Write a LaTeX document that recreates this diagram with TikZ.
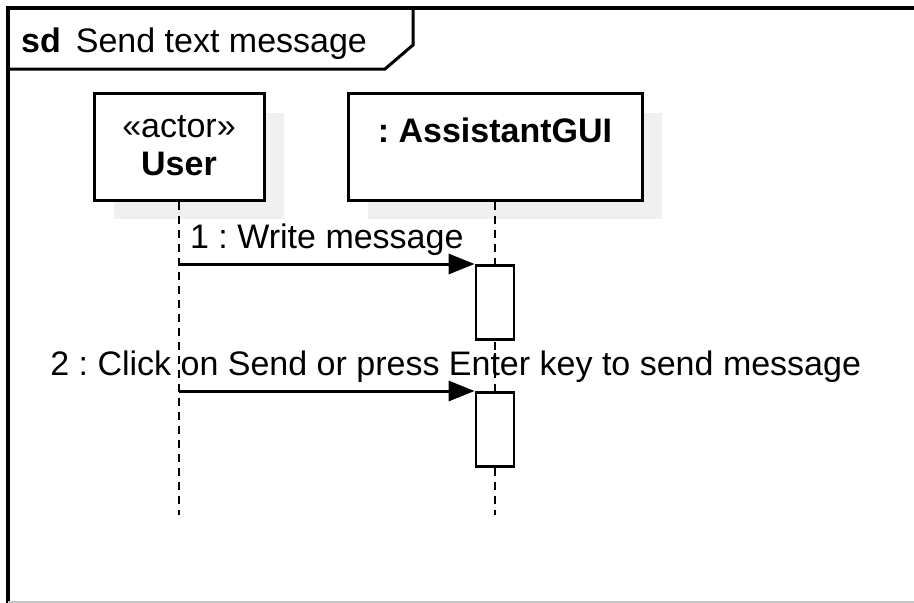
\documentclass[tikz,border=0pt]{standalone}
\usepackage{fontspec}
\setmainfont{Liberation Sans}
\usetikzlibrary{arrows.meta,positioning}
\definecolor{shadowgray}{RGB}{240,240,240}
\frenchspacing

\begin{document}
\begin{tikzpicture}[x=1pt,y=-1pt,
	lifebox/.style={
		draw=black,
		fill=white,
		line width=3pt,
		inner sep=0pt,
		minimum height=107pt,
		align=center,
		font=\fontsize{34}{38}\selectfont},
	actbox/.style={
		draw=black,
		fill=white,
		line width=2.8pt,
		inner sep=0pt,
		minimum width=38pt,
		minimum height=74pt,
		anchor=north},
	lifeline/.style={line width=2.4pt,dash pattern=on 8pt off 6pt},
	msgarrow/.style={-{Triangle[length=26pt,width=20pt]},line width=3pt},
	msgtxt/.style={font=\fontsize{34}{38}\selectfont,anchor=base,yshift=16pt,inner sep=0pt}
	]
	\useasboundingbox (0,0) rectangle (914,603);
	
	% frame
	\draw[line width=3.5pt] (8,640) -- (8,8) -- (940,8);
	\draw[gray!45,line width=2pt] (8,602) -- (914,602);
	\draw[line width=3pt] (8,69) -- (385,69) -- (413,45) -- (413,8);
	\node[font=\fontsize{34}{38}\selectfont,anchor=base west,inner sep=0pt] (title) at (21,52)
		{\textbf{sd}\hspace{15pt}Send text message};
	
	% shadows
	\fill[shadowgray] (114,113) rectangle (284,219);
	\fill[shadowgray] (368,113) rectangle (662,219);
	
	% lifelines
	\node[lifebox,minimum width=170pt] (user) at (179,146.5) {};
	\node[lifebox,minimum width=294pt] (gui) at (495,146.5) {};
	\node[font=\fontsize{34}{38}\selectfont,anchor=base,inner sep=0pt] (userst) at (179,137) {«actor»};
	\node[font=\fontsize{34}{38}\selectfont\bfseries,anchor=base,inner sep=0pt] (username) at (179,175) {User};
	\node[font=\fontsize{34}{38}\selectfont\bfseries,anchor=base,inner sep=0pt] (guiname) at (495,142) {: AssistantGUI};
	
	\coordinate (userend) at (179,515);
	\coordinate (guiend) at (495,515);
	\draw[lifeline] (user.south) -- (userend);
	\draw[lifeline] (gui.south) -- (guiend);
	
	% activations
	\node[actbox] (act1) at (495,264) {};
	\node[actbox] (act2) at (495,391) {};
	
	\foreach \a/\txt/\p in {% target/text/label position
		act1/1 : Write message/0.5,
		act2/2 : Click on Send or press Enter key to send message/0.936}
	\draw[msgarrow] (user |- \a.north) -- node[msgtxt,pos=\p] {\txt} (\a.north west);
	
\end{tikzpicture}
\end{document}
